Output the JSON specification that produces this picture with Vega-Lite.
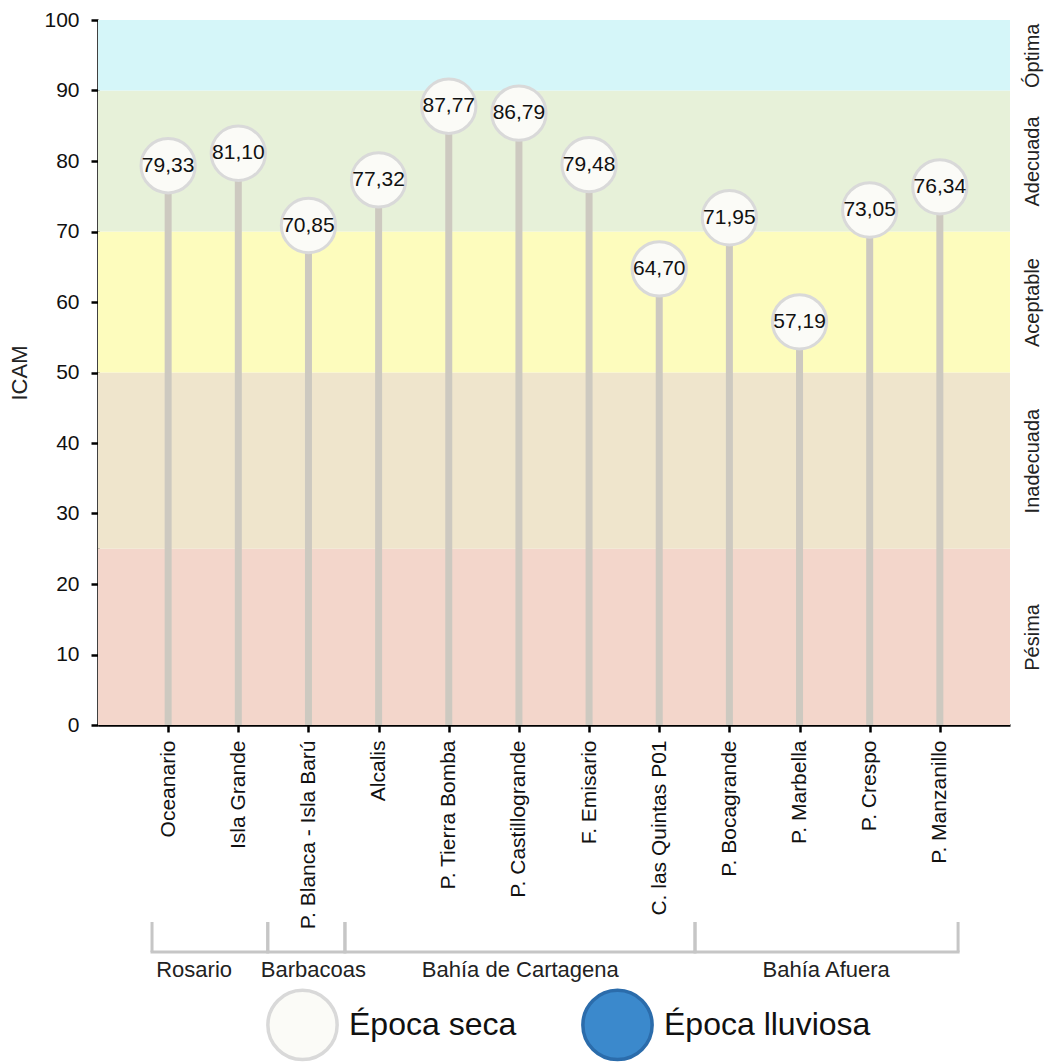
{
  "$schema": "https://vega.github.io/schema/vega-lite/v6.json",
  "padding": {"left": 8, "top": 9, "right": 6, "bottom": 4},
  "bounds": "flush",
  "spacing": 197,
  "config": {
    "font": "Liberation Sans",
    "view": {"stroke": null},
    "locale": {"number": {"decimal": ",", "thousands": ".", "grouping": [3], "currency": ["", ""]}},
    "legend": {
      "orient": "none",
      "legendX": 168,
      "legendY": 968,
      "direction": "horizontal",
      "symbolSize": 4800,
      "symbolStrokeWidth": 3.5,
      "symbolType": "circle",
      "labelFontSize": 32,
      "labelColor": "#111111",
      "labelOffset": 10,
      "labelLimit": 0,
      "columnPadding": 58
    }
  },
  "datasets": {
    "estaciones": [
      {"estacion": "Oceanario", "icam": 79.33, "epoca": "Época seca"},
      {"estacion": "Isla Grande", "icam": 81.10, "epoca": "Época seca"},
      {"estacion": "P. Blanca - Isla Barú", "icam": 70.85, "epoca": "Época seca"},
      {"estacion": "Alcalis", "icam": 77.32, "epoca": "Época seca"},
      {"estacion": "P. Tierra Bomba", "icam": 87.77, "epoca": "Época seca"},
      {"estacion": "P. Castillogrande", "icam": 86.79, "epoca": "Época seca"},
      {"estacion": "F. Emisario", "icam": 79.48, "epoca": "Época seca"},
      {"estacion": "C. las Quintas P01", "icam": 64.70, "epoca": "Época seca"},
      {"estacion": "P. Bocagrande", "icam": 71.95, "epoca": "Época seca"},
      {"estacion": "P. Marbella", "icam": 57.19, "epoca": "Época seca"},
      {"estacion": "P. Crespo", "icam": 73.05, "epoca": "Época seca"},
      {"estacion": "P. Manzanillo", "icam": 76.34, "epoca": "Época seca"}
    ],
    "franjas": [
      {"calidad": "Pésima", "desde": 0, "hasta": 25},
      {"calidad": "Inadecuada", "desde": 25, "hasta": 50},
      {"calidad": "Aceptable", "desde": 50, "hasta": 70},
      {"calidad": "Adecuada", "desde": 70, "hasta": 90},
      {"calidad": "Óptima", "desde": 90, "hasta": 100}
    ],
    "grupos": [
      {"grupo": "Rosario", "inicio": 0.77, "fin": 2.42, "centro": 1.37},
      {"grupo": "Barbacoas", "inicio": 2.42, "fin": 3.52, "centro": 3.07},
      {"grupo": "Bahía de Cartagena", "inicio": 3.52, "fin": 8.51, "centro": 6.02},
      {"grupo": "Bahía Afuera", "inicio": 8.51, "fin": 12.26, "centro": 10.38}
    ]
  },
  "vconcat": [
    {
      "width": 912,
      "height": 705,
      "layer": [
        {
          "data": {"name": "franjas"},
          "mark": {"type": "rect"},
          "encoding": {
            "y": {
              "field": "desde", "type": "quantitative",
              "scale": {"domain": [0, 100], "nice": false},
              "axis": {
                "orient": "right", "values": [12.5, 37.5, 60, 80, 95],
                "labelExpr": "datum.value == 12.5 ? 'Pésima' : datum.value == 37.5 ? 'Inadecuada' : datum.value == 60 ? 'Aceptable' : datum.value == 80 ? 'Adecuada' : 'Óptima'",
                "ticks": false, "domain": false, "grid": false,
                "labelAngle": -90, "labelFontSize": 20, "labelColor": "#222222",
                "labelPadding": 12, "title": null
              }
            },
            "y2": {"field": "hasta"},
            "color": {
              "field": "calidad", "type": "nominal",
              "scale": {
                "domain": ["Pésima", "Inadecuada", "Aceptable", "Adecuada", "Óptima"],
                "range": ["#f3d6cb", "#efe5cc", "#fdfcbd", "#e7f1d9", "#d5f6f9"]
              },
              "legend": null
            }
          }
        },
        {
          "data": {"name": "estaciones"},
          "encoding": {
            "x": {
              "field": "estacion", "type": "nominal", "sort": null,
              "scale": {"type": "point", "padding": 1},
              "axis": {
                "title": null, "labelAngle": -90, "labelFontSize": 21,
                "labelColor": "#111111", "labelPadding": 8, "labelLimit": 0,
                "domainColor": "#000000", "domainWidth": 2.5,
                "tickColor": "#000000", "tickWidth": 2.5, "tickSize": 7
              }
            }
          },
          "layer": [
            {
              "mark": {"type": "rule", "strokeWidth": 7, "color": "#cdc9c0"},
              "encoding": {
                "y": {
                  "field": "icam", "type": "quantitative",
                  "scale": {"domain": [0, 100], "nice": false},
                  "axis": {
                    "orient": "left", "title": "ICAM", "titleFontSize": 22,
                    "titleFontWeight": "normal", "titleColor": "#222222", "titlePadding": 12,
                    "values": [0, 10, 20, 30, 40, 50, 60, 70, 80, 90, 100],
                    "labelFontSize": 21, "labelColor": "#111111", "labelPadding": 12,
                    "domainColor": "#000000", "domainWidth": 2.5,
                    "tickColor": "#000000", "tickWidth": 2.5, "tickSize": 7,
                    "grid": false
                  }
                },
                "y2": {"datum": 0}
              }
            },
            {
              "mark": {"type": "point", "filled": true, "size": 2950, "strokeWidth": 3, "opacity": 1},
              "encoding": {
                "y": {"field": "icam", "type": "quantitative"},
                "fill": {
                  "field": "epoca", "type": "nominal",
                  "scale": {"domain": ["Época seca", "Época lluviosa"], "range": ["#fbfbf7", "#3b89cc"]},
                  "legend": {"title": null}
                },
                "stroke": {
                  "field": "epoca", "type": "nominal",
                  "scale": {"domain": ["Época seca", "Época lluviosa"], "range": ["#d9d9d9", "#2b6cab"]},
                  "legend": {"title": null}
                }
              }
            },
            {
              "mark": {"type": "text", "fontSize": 21, "color": "#111111"},
              "encoding": {
                "y": {"field": "icam", "type": "quantitative"},
                "text": {"field": "icam", "type": "quantitative", "format": ".2f"}
              }
            }
          ]
        }
      ],
      "resolve": {"axis": {"y": "independent"}}
    },
    {
      "width": 912,
      "height": 60,
      "data": {"name": "grupos"},
      "layer": [
        {
          "mark": {"type": "rule", "strokeWidth": 3, "color": "#c6c6c6", "strokeCap": "square"},
          "encoding": {
            "x": {"field": "inicio", "type": "quantitative", "scale": {"domain": [0, 13], "nice": false, "zero": false}, "axis": null},
            "x2": {"field": "fin"},
            "y": {"datum": 0, "type": "quantitative", "scale": {"domain": [-1, 1], "nice": false}, "axis": null}
          }
        },
        {
          "mark": {"type": "rule", "strokeWidth": 3, "color": "#c6c6c6"},
          "encoding": {
            "x": {"field": "inicio", "type": "quantitative"},
            "y": {"datum": 0, "type": "quantitative"},
            "y2": {"datum": 1}
          }
        },
        {
          "mark": {"type": "rule", "strokeWidth": 3, "color": "#c6c6c6"},
          "encoding": {
            "x": {"field": "fin", "type": "quantitative"},
            "y": {"datum": 0, "type": "quantitative"},
            "y2": {"datum": 1}
          }
        },
        {
          "mark": {"type": "text", "fontSize": 22, "color": "#222222"},
          "encoding": {
            "x": {"field": "centro", "type": "quantitative"},
            "y": {"datum": -0.6, "type": "quantitative"},
            "text": {"field": "grupo", "type": "nominal"}
          }
        }
      ]
    }
  ]
}
